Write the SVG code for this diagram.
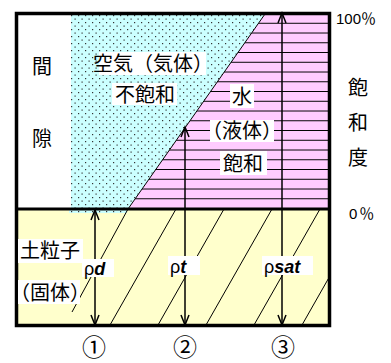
<svg xmlns="http://www.w3.org/2000/svg" width="391" height="363" viewBox="0 0 391 363">
<style>
.jp{font-family:"Noto Sans CJK JP","Noto Sans",sans-serif;font-size:20px;fill:#000;text-anchor:middle}
.lat{font-family:"Liberation Sans",Arial,sans-serif;fill:#000}
.num{font-family:"Noto Sans CJK JP",sans-serif;font-size:24px;fill:#000;text-anchor:middle}
.bg{fill:#fff}
.hl{stroke:#000;stroke-width:1}
.ax{stroke:#000;stroke-width:1.5;fill:none}
</style>
<defs>
<pattern id="dots" width="7" height="7" patternUnits="userSpaceOnUse">
<rect width="7" height="7" fill="#ccffff"/>
<rect x="1" y="1" width="1.2" height="1.2" fill="#333"/>
<rect x="4.5" y="4.5" width="1.2" height="1.2" fill="#333"/>
</pattern>
<pattern id="hlines" width="10" height="9.75" patternUnits="userSpaceOnUse" y="14">
<rect width="10" height="9.75" fill="#ffccff"/>
<line x1="0" y1="9.25" x2="10" y2="9.25" stroke="#000" stroke-width="1"/>
</pattern>
<clipPath id="yclip"><rect x="16" y="210" width="313" height="115"/></clipPath>
</defs>

<g id="background">
<rect x="15" y="13" width="316" height="313" fill="#fff"/>
<rect x="16" y="209" width="313" height="117" fill="#ffffcc"/>
</g>

<g id="air">
<polygon points="71,14 265,14 128,209 71,209" fill="url(#dots)"/>
<rect x="69" y="209" width="58" height="4" fill="url(#dots)"/>
</g>

<g id="water">
<polygon points="265,14 330,14 330,209 128,209" fill="url(#hlines)"/>
<line x1="128" y1="209" x2="265" y2="14" class="hl"/>
</g>

<g id="soil" clip-path="url(#yclip)">
<line x1="128" y1="209" x2="72" y2="312" class="hl"/>
<line x1="176" y1="209" x2="110" y2="325" class="hl"/>
<line x1="224" y1="209" x2="158" y2="325" class="hl"/>
<line x1="272" y1="209" x2="206" y2="325" class="hl"/>
<line x1="320" y1="209" x2="254" y2="325" class="hl"/>
<line x1="368" y1="209" x2="302" y2="325" class="hl"/>
</g>

<g id="frame">
<rect x="16.5" y="13.5" width="313" height="312" fill="none" stroke="#000" stroke-width="3.5"/>
<line x1="15" y1="209" x2="331" y2="209" stroke="#000" stroke-width="3"/>
</g>

<g id="connectors">
<line x1="95" y1="210" x2="95" y2="325" class="ax"/>
<polyline points="91,220 95,210 99,220" class="ax"/>
<polyline points="91,315 95,325 99,315" class="ax"/>
<line x1="185" y1="127" x2="185" y2="325" class="ax"/>
<polyline points="181,137 185,127 189,137" class="ax"/>
<polyline points="181,315 185,325 189,315" class="ax"/>
<line x1="282" y1="13" x2="282" y2="325" class="ax"/>
<polyline points="278,23 282,13 286,23" class="ax"/>
<polyline points="278,315 282,325 286,315" class="ax"/>
</g>

<g id="label-gap">
<text x="42" y="74" class="jp">間</text>
<text x="42" y="146" class="jp">隙</text>
</g>

<g id="label-air">
<rect x="99" y="52" width="107" height="23" class="bg"/>
<text x="153" y="71" class="jp" font-size="17.5">空気（気体）</text>
<rect x="112" y="83" width="65" height="22" class="bg"/>
<text x="145" y="102" class="jp">不飽和</text>
</g>

<g id="label-water">
<rect x="230" y="84" width="24" height="24" class="bg"/>
<text x="242" y="104" class="jp">水</text>
<rect x="210" y="120" width="64" height="22" class="bg"/>
<text x="242" y="138" class="jp">（液体）</text>
<rect x="220" y="151" width="47" height="24" class="bg"/>
<text x="243" y="171" class="jp">飽和</text>
</g>

<g id="label-saturation">
<text x="336" y="24" class="lat" font-size="15">100<tspan font-family="Noto Sans CJK JP,sans-serif">％</tspan></text>
<text x="358" y="95" class="jp" font-size="21">飽</text>
<text x="358" y="130" class="jp" font-size="21">和</text>
<text x="358" y="165" class="jp" font-size="21">度</text>
<text x="349" y="219" class="lat" font-size="15">0<tspan dx="2" font-family="Noto Sans CJK JP,sans-serif">％</tspan></text>
</g>

<g id="label-solid">
<rect x="18" y="239" width="65" height="24" class="bg"/>
<text x="50" y="258" class="jp">土粒子</text>
<rect x="18" y="280" width="62" height="24" class="bg"/>
<text x="50" y="300" class="jp">（固体）</text>
</g>

<g id="label-rho">
<rect x="82" y="259" width="32" height="18" class="bg"/>
<text x="84" y="275" class="lat" font-size="18">ρ<tspan font-weight="bold" font-style="italic">d</tspan></text>
<rect x="168" y="256" width="32" height="19" class="bg"/>
<text x="170" y="273" class="lat" font-size="18">ρ<tspan font-weight="bold" font-style="italic">t</tspan></text>
<rect x="262" y="256" width="51" height="19" class="bg"/>
<text x="264" y="273" class="lat" font-size="18">ρ<tspan font-weight="bold" font-style="italic">sat</tspan></text>
</g>

<g id="label-cases">
<text x="94" y="356" class="num">①</text>
<text x="185" y="356" class="num">②</text>
<text x="283" y="356" class="num">③</text>
</g>
</svg>
